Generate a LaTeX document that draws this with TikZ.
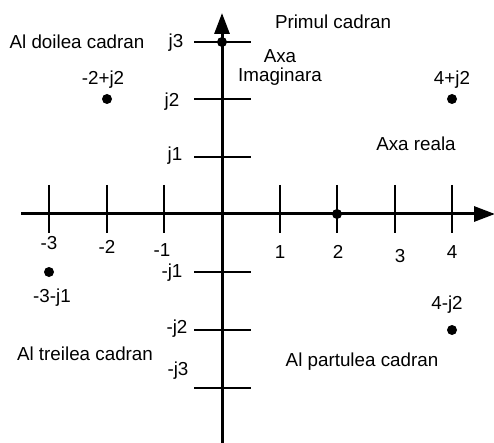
\documentclass[tikz,border=0pt]{standalone}
\usepackage{fontspec}
\setmainfont{Liberation Sans}
\usetikzlibrary{arrows.meta}
\begin{document}
\begin{tikzpicture}[x=1pt,y=-1pt,
  axis/.style={line width=3pt,-{Triangle[length=21pt,width=15pt]}},
  tick/.style={line width=1.2pt},
  lbl/.style={inner sep=0pt,font=\fontsize{18.8}{21}\selectfont},
  dot/.style={circle,fill=black,inner sep=0pt,minimum size=10pt}]
\useasboundingbox (0,0) rectangle (494,443);
% axes
\coordinate (xl) at (21,214);
\coordinate (xr) at (495,214);
\coordinate (yb) at (222,443);
\coordinate (yt) at (222,13);
% ticks on real axis
\foreach \n/\x in {m3/49,m2/107,m1/164,p1/280,p2/337,p3/395,p4/452}{
  \coordinate (tx\n a) at (\x,185);
  \coordinate (tx\n b) at (\x,233);
  \draw[tick] (tx\n a) -- (tx\n b);
}
% ticks on imaginary axis
\foreach \n/\y in {p3/42,p2/99,p1/157,m1/272,m2/330,m3/388}{
  \coordinate (ty\n a) at (194,\y);
  \coordinate (ty\n b) at (251,\y);
  \draw[tick] (ty\n a) -- (ty\n b);
}
\draw[axis] (xl) -- (xr);
\draw[axis] (yb) -- (yt);
% points
\node[dot] (d1) at (107,99) {};
\node[dot] (d2) at (452,99) {};
\node[dot] (d3) at (49,272) {};
\node[dot] (d4) at (452,330) {};
\node[dot] (d5) at (222,42) {};
\node[dot] (d6) at (337,214) {};
% labels
\node[lbl] (q2) at (77,42) {Al doilea cadran};
\node[lbl] (q1) at (333,22) {Primul cadran};
\node[lbl] (q3) at (85,354) {Al treilea cadran};
\node[lbl] (q4) at (362,362) {Al partulea cadran};
\node[lbl,align=center] (ai) at (280,67) {Axa\\[-2pt]Imaginara};
\node[lbl] (ar) at (416,144) {Axa reala};
\node[lbl] (l1) at (103,80) {-2+j2};
\node[lbl] (l2) at (452,80) {4+j2};
\node[lbl] (l3) at (52,298) {-3-j1};
\node[lbl] (l4) at (447,305) {4-j2};
% axis numbers
\node[lbl] (nm3) at (49,243) {-3};
\node[lbl] (nm2) at (107,247) {-2};
\node[lbl] (nm1) at (162,250) {-1};
\node[lbl] (np1) at (280,252) {1};
\node[lbl] (np2) at (338,252) {2};
\node[lbl] (np3) at (400,256) {3};
\node[lbl] (np4) at (452,252) {4};
\node[lbl] (jp3) at (176,43) {j3};
\node[lbl] (jp2) at (172,102) {j2};
\node[lbl] (jp1) at (175,156) {j1};
\node[lbl] (jm1) at (172,273) {-j1};
\node[lbl] (jm2) at (177,329) {-j2};
\node[lbl] (jm3) at (178,371) {-j3};
\end{tikzpicture}
\end{document}
